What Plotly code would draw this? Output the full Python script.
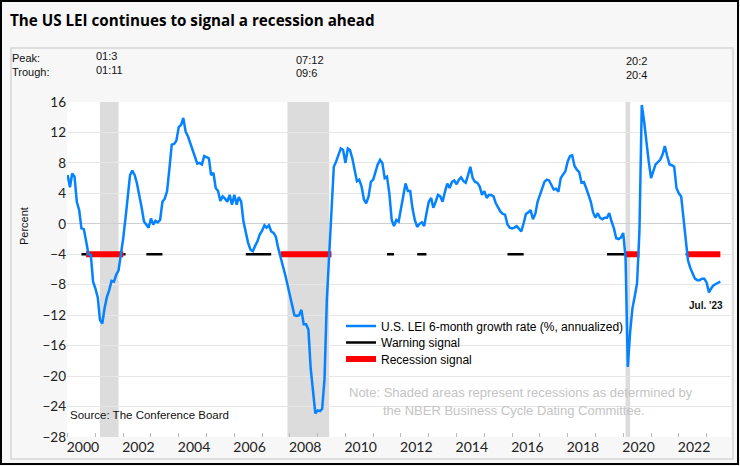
import plotly.graph_objects as go
import pandas as pd

# ---------------- data ----------------
# U.S. LEI 6-month growth rate (%, annualized), monthly from Jan 2000 to Jul 2023
lei_2000_2006 = [
    6.4, 4.8, 6.6, 6.2, 2.9, 1.8, -0.6, -0.7, -2.3, -4.0,
    -4.1, -7.6, -8.5, -9.7, -12.6, -13.1, -11.1, -9.6, -8.7, -7.5,
    -7.6, -6.7, -6.1, -4.1, -1.9, 0.8, 3.4, 6.4, 7.0, 6.4,
    5.3, 3.8, 2.1, 0.3, -0.1, -0.5, 0.7, -0.1, 0.4, 0.2,
    0.5, 2.9, 3.3, 4.3, 7.3, 10.4, 10.5, 10.9, 12.7, 13.0,
    13.9, 12.1, 11.5, 10.6, 9.7, 9.1, 7.9, 8.0, 7.8, 8.9,
    8.7, 8.6, 6.4, 6.7, 4.7, 4.3, 3.0, 3.6, 3.3, 2.9,
    3.8, 2.5, 3.8, 2.5, 3.5, 2.9,
]
lei_2006_2012 = [
    0.3, -1.4, -2.5, -3.4, -3.6, -2.9, -2.3, -1.4, -0.9, -0.2,
    -0.5, -0.2, -1.0, -1.2, -1.7, -3.2, -4.3, -5.4, -6.7, -8.0,
    -9.3, -10.7, -12.0, -12.1, -12.0, -11.3, -13.2, -13.2, -13.9, -19.0,
    -22.3, -24.9, -24.5, -24.6, -24.3, -20.3, -10.0, -4.1, 1.5, 7.5,
    8.2, 9.1, 9.9, 9.7, 8.0, 9.9, 9.7, 8.6, 7.3, 5.6,
    5.8, 4.9, 3.2, 2.7, 3.6, 5.5, 5.8, 6.8, 7.8, 8.4,
    8.0, 6.0, 6.2, 4.0, 0.5, -0.3, 0.5, 0.3, 2.1, 3.8,
    5.3, 4.3,
]
lei_2012_2018 = [
    4.3, 2.0, 0.5, -0.4, 0.0, 0.2, -0.3, 1.4, 2.9, 3.4,
    2.1, 2.9, 3.8, 3.6, 2.9, 4.2, 5.3, 4.7, 5.5, 5.7,
    5.2, 5.8, 6.1, 5.6, 5.4, 6.4, 7.5, 6.0, 5.5, 5.4,
    4.9, 3.8, 4.3, 3.4, 3.8, 3.8, 3.6, 2.7, 2.1, 1.6,
    1.3, 1.2, -0.1, -0.5, -0.6, -0.5, -0.3, -0.6, -1.0, 0.1,
    1.3, 1.5, 1.8, 0.6, 1.3, 2.9, 3.8, 4.7, 5.5, 5.8,
    5.7, 5.1, 4.5, 4.6, 4.2, 6.0, 6.4, 6.9, 8.2, 8.9,
    9.0, 7.6, 7.1, 6.8,
]
lei_2018_2023 = [
    5.4, 5.5, 4.7, 3.8, 2.9, 1.5, 0.8, 1.4, 0.8, 0.6,
    0.8, 0.8, 1.4, 0.3, -0.6, -1.9, -2.0, -1.8, -1.2, -4.5,
    -18.8, -14.2, -11.1, -9.5, -7.8, -1.0, 15.6, 13.5, 10.4, 8.2,
    6.0, 6.9, 7.8, 8.1, 8.4, 9.1, 10.2, 8.9, 7.8, 7.7,
    7.5, 4.7, 4.0, 3.6, 0.9, -2.0, -4.8, -5.8, -6.5, -7.2,
    -7.4, -7.4, -7.2, -7.2, -7.7, -9.0, -8.5, -8.1, -7.9, -7.7,
    -7.6,
]
lei_growth = lei_2000_2006 + lei_2006_2012 + lei_2012_2018 + lei_2018_2023
first_month = "2000-01-01"

# NBER recessions (peak, trough)
recession_peak = ["2001-03-01", "2007-12-01", "2020-02-01"]
recession_trough = ["2001-11-01", "2009-06-01", "2020-04-01"]

# signal periods, drawn at the -4 threshold
signal_level = -4
warning_start = ["2000-07", "2002-01", "2002-11", "2006-06", "2011-07", "2012-08", "2015-11", "2019-06", "2022-04"]
warning_end = ["2000-09", "2002-02", "2003-06", "2007-05", "2011-10", "2012-12", "2016-06", "2020-02", "2022-05"]
recession_signal_start = ["2000-09", "2007-09", "2020-02", "2022-05"]
recession_signal_end = ["2002-01", "2009-07", "2020-08", "2023-07"]

year_labels = ["2000", "2002", "2004", "2006", "2008", "2010", "2012",
               "2014", "2016", "2018", "2020", "2022"]
y_ticks = [16, 12, 8, 4, 0, -4, -8, -12, -16, -20, -24, -28]

# ---------------- figure ----------------
months = pd.date_range(first_month, periods=len(lei_growth), freq="MS")


def level_series(starts, ends):
    s = pd.Series(float("nan"), index=months)
    for a, b in zip(starts, ends):
        s[(s.index >= pd.Timestamp(a)) & (s.index <= pd.Timestamp(b))] = signal_level
    return [None if pd.isna(v) else v for v in s]


W, H = 740, 466
L, R, T, B = 67, 9, 102, 29
PW, PH = W - L - R, H - T - B


def px(xp):
    return (xp - L) / PW


def py(yp):
    return (H - B - yp) / PH


ARIAL = "Liberation Sans"
TICKFONT = "Lato"

fig = go.Figure()
fig.add_trace(go.Scatter(
    x=months, y=level_series(warning_start, warning_end), mode="lines",
    line=dict(color="#000000", width=2.5), name="Warning signal",
    legend="legend2", hoverinfo="skip"))
fig.add_trace(go.Scatter(
    x=months, y=level_series(recession_signal_start, recession_signal_end), mode="lines",
    line=dict(color="#ff0000", width=6), name="Recession signal",
    legend="legend3", hoverinfo="skip"))
fig.add_trace(go.Scatter(
    x=months, y=lei_growth, mode="lines",
    line=dict(color="#0582ff", width=2.5),
    name="U.S. LEI 6-month growth rate (%, annualized)", legend="legend"))

shapes = []
for pk, tr in zip(recession_peak, recession_trough):
    shapes.append(dict(type="rect", xref="x", yref="paper", x0=pk, x1=tr, y0=0, y1=1,
                       fillcolor="#dcdcdc", line=dict(width=0), layer="below"))
# inner light box and outer black frame
shapes.append(dict(type="rect", xref="paper", yref="paper", x0=px(11), x1=px(733),
                   y0=py(459), y1=py(48), line=dict(color="#d6d6d6", width=1.5),
                   fillcolor="rgba(0,0,0,0)", layer="above"))
shapes.append(dict(type="rect", xref="paper", yref="paper", x0=px(1), x1=px(738),
                   y0=py(464), y1=py(1), line=dict(color="#000000", width=2),
                   fillcolor="rgba(0,0,0,0)", layer="above"))

ann = []
small = dict(family=ARIAL, size=11, color="#111111")
ann.append(dict(text="Peak:", x=px(10), y=py(58), xref="paper", yref="paper",
                xanchor="left", yanchor="middle", showarrow=False, font=small))
ann.append(dict(text="Trough:", x=px(10), y=py(72), xref="paper", yref="paper",
                xanchor="left", yanchor="middle", showarrow=False, font=small))
label_shift = [-6, 6, -2]
peak_row = [56, 60, 61]
trough_row = [70, 73, 75]
for i, (pk, tr) in enumerate(zip(recession_peak, recession_trough)):
    p, t = pd.Timestamp(pk), pd.Timestamp(tr)
    ann.append(dict(text=f"{p:%y}:{p.month}", x=pk, xref="x", y=py(peak_row[i]), yref="paper",
                    xanchor="left", yanchor="middle", xshift=label_shift[i], showarrow=False, font=small))
    ann.append(dict(text=f"{t:%y}:{t.month}", x=pk, xref="x", y=py(trough_row[i]), yref="paper",
                    xanchor="left", yanchor="middle", xshift=label_shift[i], showarrow=False, font=small))
ann.append(dict(text="Percent", x=px(24), y=py(226), xref="paper", yref="paper", textangle=-90,
                xanchor="center", yanchor="middle", showarrow=False, font=small))
ann.append(dict(text="Source: The Conference Board", x=px(68), y=py(415), xref="paper", yref="paper",
                xanchor="left", yanchor="middle", showarrow=False,
                font=dict(family=ARIAL, size=11.5, color="#111111")))
note = dict(family=ARIAL, size=13, color="#c4c4c4")
ann.append(dict(text="Note: Shaded areas represent recessions as determined by", x=px(347), y=py(392),
                xref="paper", yref="paper", xanchor="left", yanchor="middle", showarrow=False, font=note))
ann.append(dict(text="the NBER Business Cycle Dating Committee.", x=px(381), y=py(410),
                xref="paper", yref="paper", xanchor="left", yanchor="middle", showarrow=False, font=note))
last = months[-1]
ann.append(dict(text=f"<b>{last:%b}. '{last:%y}</b>", x=last, xref="x", y=py(305), yref="paper",
                xanchor="right", yanchor="middle", xshift=5, showarrow=False,
                font=dict(family=ARIAL, size=10, color="#111111")))

leg_common = dict(xref="paper", yref="paper", xanchor="left", yanchor="middle",
                  bgcolor="rgba(0,0,0,0)", borderwidth=0,
                  font=dict(family=ARIAL, size=12, color="#000000"))

fig.update_layout(
    width=W, height=H,
    margin=dict(l=L, r=R, t=T, b=B, pad=0, autoexpand=False),
    paper_bgcolor="#f7f7f7", plot_bgcolor="#ffffff",
    title=dict(text="<b>The US LEI continues to signal a recession ahead</b>",
               x=10 / W, xanchor="left", xref="container",
               y=1 - 21 / H, yanchor="middle", yref="container",
               font=dict(family="Open Sans", size=15.2, color="#000000")),
    showlegend=True,
    legend=dict(x=px(341), y=py(326), **leg_common),
    legend2=dict(x=px(341), y=py(342.5), **leg_common),
    legend3=dict(x=px(341), y=py(359), **leg_common),
    shapes=shapes, annotations=ann,
    xaxis=dict(
        type="date", range=["1999-12-24", "2023-11-18"],
        tickmode="array",
        tickvals=[f"{y}-07-20" for y in year_labels], ticktext=year_labels,
        ticks="", showgrid=False, zeroline=False, showline=False,
        tickfont=dict(family=TICKFONT, size=14, color="#222222"),
        minor=dict(tickmode="linear", tick0="2000-01-01", dtick="M12", ticks="inside",
                   ticklen=4, tickcolor="#bdbdbd", showgrid=False),
    ),
    yaxis=dict(
        range=[-28, 16], tickmode="array", tickvals=y_ticks,
        showgrid=True, gridcolor="#e6e6e6", gridwidth=1,
        zeroline=True, zerolinecolor="#cfcfcf", zerolinewidth=1,
        showline=False, ticks="",
        tickfont=dict(family=TICKFONT, size=13.5, color="#222222"),
    ),
)

fig.write_html("out.html", config={"displayModeBar": False},
               post_script="document.body.style.margin='0px';")
